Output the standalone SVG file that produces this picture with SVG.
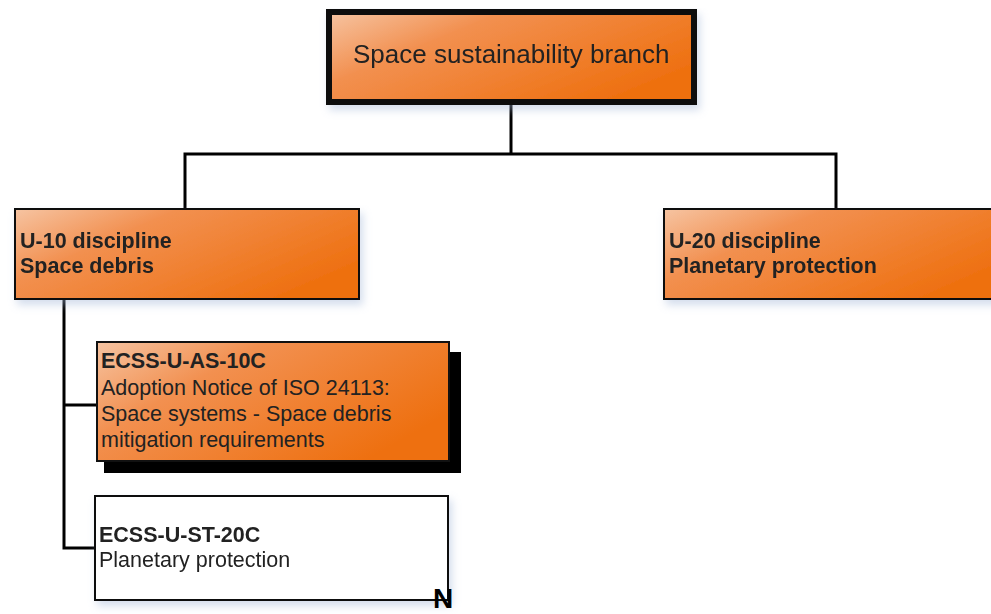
<svg xmlns="http://www.w3.org/2000/svg" width="991" height="614" viewBox="0 0 991 614">
  <defs>
    <linearGradient id="og" x1="0" y1="0" x2="1" y2="0.6">
      <stop offset="0" stop-color="#f6c4a2"/>
      <stop offset="0.35" stop-color="#f29050"/>
      <stop offset="1" stop-color="#ee7010"/>
    </linearGradient>
    <filter id="soft" x="-10%" y="-10%" width="130%" height="140%">
      <feGaussianBlur in="SourceAlpha" stdDeviation="4"/>
      <feOffset dx="3" dy="5" result="b"/>
      <feFlood flood-color="#9fb4d6" flood-opacity="0.45"/>
      <feComposite in2="b" operator="in"/>
      <feMerge><feMergeNode/><feMergeNode in="SourceGraphic"/></feMerge>
    </filter>
  </defs>
  <style>
    .box { fill: url(#og); stroke: #111; stroke-width: 2; }
    .wbox { fill: #fff; stroke: #111; stroke-width: 2; }
    .t { font-family: "Liberation Sans", Arial, sans-serif; font-size: 21.5px; fill: #222; }
    .b { font-weight: bold; }
    .conn { stroke: #000; stroke-width: 3; fill: none; }
  </style>
  <rect width="991" height="614" fill="#fff"/>

  <g id="connectors">
    <polyline class="conn" points="511,104 511,154"/>
    <polyline class="conn" points="185,209 185,154 836,154 836,209"/>
    <polyline class="conn" points="64,299 64,548 96,548"/>
    <polyline class="conn" points="64,405 98,405"/>
  </g>

  <g id="root" filter="url(#soft)">
    <rect x="329" y="12" width="365" height="90" fill="url(#og)" stroke="#111" stroke-width="6"/>
    <text class="t" x="353" y="63" style="font-size:26px">Space sustainability branch</text>
  </g>

  <g id="u10" filter="url(#soft)">
    <rect class="box" x="15" y="209" width="344" height="90"/>
    <text class="t b" x="20" y="248">U-10 discipline</text>
    <text class="t b" x="20" y="273">Space debris</text>
  </g>

  <g id="u20" filter="url(#soft)">
    <rect class="box" x="664" y="209" width="340" height="90"/>
    <text class="t b" x="669" y="248">U-20 discipline</text>
    <text class="t b" x="669" y="273">Planetary protection</text>
  </g>

  <g id="ecss-u-as-10c">
    <rect x="104" y="352" width="357" height="121" fill="#000"/>
    <rect class="box" x="97" y="342" width="352" height="119"/>
    <text class="t b" x="101" y="368">ECSS-U-AS-10C</text>
    <text class="t" x="101" y="395">Adoption Notice of ISO 24113:</text>
    <text class="t" x="101" y="421">Space systems - Space debris</text>
    <text class="t" x="101" y="447">mitigation requirements</text>
  </g>

  <g id="ecss-u-st-20c" filter="url(#soft)">
    <rect class="wbox" x="95" y="496" width="353" height="104"/>
    <text class="t b" x="99" y="542">ECSS-U-ST-20C</text>
    <text class="t" x="99" y="567">Planetary protection</text>
  </g>

  <text class="t b" x="433" y="608" style="font-size:28px;fill:#000">N</text>
</svg>
